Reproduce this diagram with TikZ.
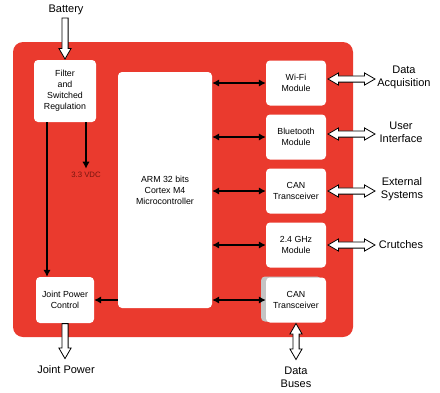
\documentclass[tikz,border=0pt]{standalone}
\usepackage{fontspec}
\setmainfont{Liberation Sans}
\usetikzlibrary{calc,arrows.meta,shapes.arrows,shadows}
\definecolor{boardred}{RGB}{234,58,46}
\definecolor{vdcred}{RGB}{120,22,16}
\definecolor{shadowgray}{RGB}{196,196,196}

\begin{document}
\begin{tikzpicture}[x=1pt,y=-1pt,
  block/.style={fill=white, rounded corners=4pt, align=center, inner sep=0pt,
    font=\fontsize{8.8}{11}\selectfont},
  module/.style={block, minimum width=60pt, minimum height=45pt},
  extlabel/.style={align=center, font=\fontsize{11}{13}\selectfont},
  wire/.style={line width=2pt, -{Latex[length=7pt,width=7.5pt]}},
  dwire/.style={line width=2pt, {Latex[length=7pt,width=7.5pt]}-{Latex[length=7pt,width=7.5pt]}},
  hollow/.style={draw=black, fill=white, line width=0.8pt, inner sep=2.7pt, minimum height=#1},
  single/.style={single arrow, single arrow head extend=3pt, single arrow tip angle=60},
  dbl/.style={double arrow, double arrow head extend=3pt, double arrow tip angle=60}]
  \useasboundingbox (0,0) rectangle (440,392);
  % board
  \fill[boardred, rounded corners=10pt] (13,42) rectangle (353,337);
  % blocks
  \node[block, minimum width=62pt, minimum height=62pt] (filter) at (65,91)
    {Filter\\and\\Switched\\Regulation};
  \node[block, minimum width=94pt, minimum height=236pt] (mcu) at (165,190)
    {ARM 32 bits\\Cortex M4\\Microcontroller};
  \node[block, minimum width=58pt, minimum height=46pt] (jpc) at (65,300)
    {Joint Power\\Control};
  \node[module] (wifi) at (296,83) {Wi-Fi\\Module};
  \node[module] (bt) at (296,137) {Bluetooth\\Module};
  \node[module] (can1) at (296,191) {CAN\\Transceiver};
  \node[module] (ghz) at (296,245) {2.4 GHz\\Module};
  \node[module, drop shadow={shadow xshift=-5pt, shadow yshift=1pt,
    fill=shadowgray, opacity=1}] (can2) at (296,300) {CAN\\Transceiver};
  % texts
  \node[extlabel] (battery) at (66,10) {Battery};
  \node[font=\fontsize{7.8}{9}\selectfont, text=vdcred] (vdc) at (86,175) {3.3 VDC};
  \node[extlabel] (acq) at (404,77) {Data\\Acquisition};
  \node[extlabel] (ui) at (401,132) {User\\Interface};
  \node[extlabel] (ext) at (402,189) {External\\Systems};
  \node[extlabel] (crutch) at (401,245) {Crutches};
  \node[extlabel] (jpower) at (66,370) {Joint Power};
  \node[extlabel] (buses) at (296,377) {Data\\Buses};
  % power wires
  \draw[wire] ([xshift=-18pt]filter.south) -- ([xshift=-18pt]filter.south |- jpc.north);
  \draw[wire] ([xshift=21pt]filter.south) -- ([xshift=21pt]filter.south |- vdc.north);
  \draw[wire] (mcu.west |- jpc.east) -- (jpc.east);
  % bus wires
  \foreach \m in {wifi,bt,can1,ghz,can2}
    \draw[dwire] (mcu.east |- \m.west) -- (\m.west);
  % hollow arrows
  \node[hollow=41pt, single, rotate=-90, anchor=east] (batin) at (filter.north) {};
  \node[hollow=35pt, single, rotate=-90, anchor=west] (jpout) at (jpc.south) {};
  \node[hollow=36pt, dbl, rotate=-90, anchor=west] (busio) at (can2.south) {};
  \foreach \m/\dy in {wifi/4,bt/3,can1/0,ghz/0}
    \node[hollow=47pt, dbl, anchor=west] (\m-io) at ([xshift=1pt,yshift=\dy pt]\m.east) {};
\end{tikzpicture}
\end{document}
